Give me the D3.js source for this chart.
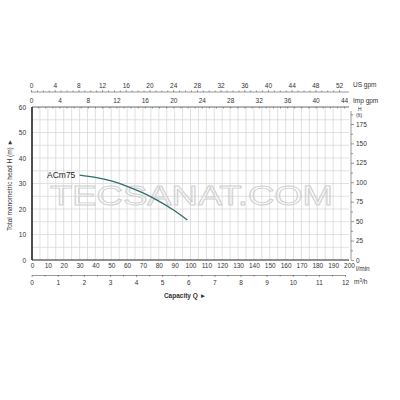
<!DOCTYPE html>
<html><head><meta charset="utf-8">
<script src="https://cdn.jsdelivr.net/npm/d3@7"></script>
<style>body{margin:0;background:#fff}svg{display:block}text{font-family:"Liberation Sans",Arial,sans-serif}</style>
</head><body><svg id="c" width="400" height="400"></svg>
<script>
const flowLmin = [30, 40, 50, 60, 70, 80, 90, 98];
const headM = [33.3, 32.4, 31.0, 28.9, 26.3, 23.1, 19.3, 15.7];
const lminTicks = d3.range(0, 201, 10);
const headTicks = d3.range(0, 61, 10);
const ftTicks = [0, 25, 50, 75, 100, 125, 150, 175];
const usTicks = d3.range(0, 53, 4);
const impTicks = d3.range(0, 45, 4);
const m3Ticks = d3.range(0, 13, 1);
const modelName = "ACm75";

const svg = d3.select("#c");
const x = d3.scaleLinear([0, 200], [32, 349]);
const y = d3.scaleLinear([0, 60], [260, 107]);
const yFt = d3.scaleLinear([0, 60 * 3.28084], [260, 107]);
const xUS = d3.scaleLinear([0, 200 / 3.78541], [31, 344]);
const xImp = d3.scaleLinear([0, 200 / 4.54609], [31, 344]);
const xM3 = d3.scaleLinear([0, 12], [31.6, 345]);
const fs = 6.5, tc = "#333";

// grid
const g = svg.append("g").attr("stroke", "#d4d4d4").attr("stroke-width", 0.7);
d3.range(5, 200, 5).forEach(v => g.append("line").attr("x1", x(v)).attr("x2", x(v)).attr("y1", y(0)).attr("y2", y(60)));
d3.range(5, 60, 5).forEach(v => g.append("line").attr("x1", x(0)).attr("x2", x(200)).attr("y1", y(v)).attr("y2", y(v)));

// watermark
svg.append("text").attr("x", 191.5).attr("y", 205).attr("text-anchor", "middle")
  .attr("font-size", 27).attr("font-family", "DejaVu Sans")
  .attr("textLength", 283).attr("lengthAdjust", "spacingAndGlyphs")
  .attr("fill", "none").attr("stroke", "#cfcfcf").attr("stroke-width", 0.9).text("TECSANAT.COM");

// frame
svg.append("line").attr("x1", x(0)).attr("x2", x(0)).attr("y1", y(0)).attr("y2", y(60)).attr("stroke", "#222").attr("stroke-width", 1.6);
svg.append("line").attr("x1", x(0)).attr("x2", x(200)).attr("y1", y(0)).attr("y2", y(0)).attr("stroke", "#222").attr("stroke-width", 1.2);
svg.append("line").attr("x1", x(0)).attr("x2", x(200)).attr("y1", y(60)).attr("y2", y(60)).attr("stroke", "#444").attr("stroke-width", 0.8);

function styleAxis(sel) {
  sel.selectAll("text").attr("font-size", fs).attr("fill", tc);
  sel.selectAll("line,path").attr("stroke", "#555").attr("stroke-width", 0.6);
}

// left axis
const la = svg.append("g").attr("transform", `translate(${x(0)},0)`)
  .call(d3.axisLeft(y).tickValues(headTicks).tickSize(0).tickPadding(6));
la.select("path").remove(); styleAxis(la);

// bottom l/min
const ba = svg.append("g").attr("transform", `translate(0,${y(0)})`)
  .call(d3.axisBottom(x).tickValues(lminTicks).tickSize(0).tickPadding(3));
ba.select("path").remove(); styleAxis(ba);

// m3/h axis
const m3y = 275;
const ma = svg.append("g").attr("transform", `translate(0,${m3y})`)
  .call(d3.axisBottom(xM3).tickValues(m3Ticks).tickSize(2).tickPadding(3).tickSizeOuter(0));
styleAxis(ma);
const mm = svg.append("g").attr("transform", `translate(0,${m3y})`)
  .call(d3.axisBottom(xM3).tickValues(d3.range(0.5, 12, 1)).tickSize(1.5).tickFormat(""));
mm.select("path").remove(); styleAxis(mm);

// US gpm axis
const usY = 92;
const ua = svg.append("g").attr("transform", `translate(0,${usY})`)
  .call(d3.axisTop(xUS).tickValues(usTicks).tickSize(2).tickPadding(2).tickSizeOuter(0));
styleAxis(ua);
ua.select("path").attr("d", `M${xUS(0)},0H${x(200)}`);
const um = svg.append("g").attr("transform", `translate(0,${usY})`)
  .call(d3.axisTop(xUS).tickValues(d3.range(1, 53, 1).filter(v => v % 4)).tickSize(1.5).tickFormat(""));
um.select("path").remove(); styleAxis(um);

// Imp gpm axis (top frame)
const ia = svg.append("g").attr("transform", `translate(0,${y(60)})`)
  .call(d3.axisTop(xImp).tickValues(impTicks).tickSize(0).tickPadding(4));
ia.select("path").remove(); styleAxis(ia);
const im = svg.append("g").attr("transform", `translate(0,${y(60)})`)
  .call(d3.axisBottom(xImp).tickValues(d3.range(1, 45, 1)).tickSize(1.5).tickFormat(""));
im.select("path").remove(); styleAxis(im);

// right ft axis
const ra = svg.append("g").attr("transform", `translate(${x(200) + 2},0)`)
  .call(d3.axisRight(yFt).tickValues(ftTicks).tickSize(3).tickPadding(2).tickSizeOuter(0));
styleAxis(ra);
ra.select("path").attr("d", `M0,${yFt(0)}V${y(60) + 4}`);
const rm = svg.append("g").attr("transform", `translate(${x(200) + 2},0)`)
  .call(d3.axisRight(yFt).tickValues(d3.range(12.5, 190, 25)).tickSize(2).tickFormat(""));
rm.select("path").remove(); styleAxis(rm);

// unit labels
const lab = (t, px, py, a, s) => svg.append("text").attr("x", px).attr("y", py).attr("text-anchor", a || "start")
  .attr("font-size", s || fs).attr("fill", tc).text(t);
lab("US gpm", 353, 87);
lab("Imp gpm", 353, 103);
lab("H", 358, 111, "start", 5);
lab("(ft)", 356, 117, "start", 5);
lab("l/min", 356, 271);
const m3 = lab("m", 354, 284);
m3.append("tspan").attr("font-size", 4.5).attr("dy", -2.5).text("3");
m3.append("tspan").attr("dy", 2.5).text("/h");
lab("Capacity Q  \u25BA", 185, 298, "middle", 6.5).attr("font-weight", "bold").attr("fill", "#333");
svg.append("text").attr("transform", "translate(12,185) rotate(-90)").attr("text-anchor", "middle")
  .attr("font-size", 6.5).attr("fill", tc).text("Total manometric head H (m) \u25BA");

// curve
const pts = flowLmin.map((q, i) => [x(q), y(headM[i])]);
svg.append("path").attr("d", d3.line().curve(d3.curveMonotoneX)(pts))
  .attr("fill", "none").attr("stroke", "#2f6e6e").attr("stroke-width", 1.3);
lab(modelName, 47, 178, "start", 8.5).attr("fill", "#222");
</script></body></html>
